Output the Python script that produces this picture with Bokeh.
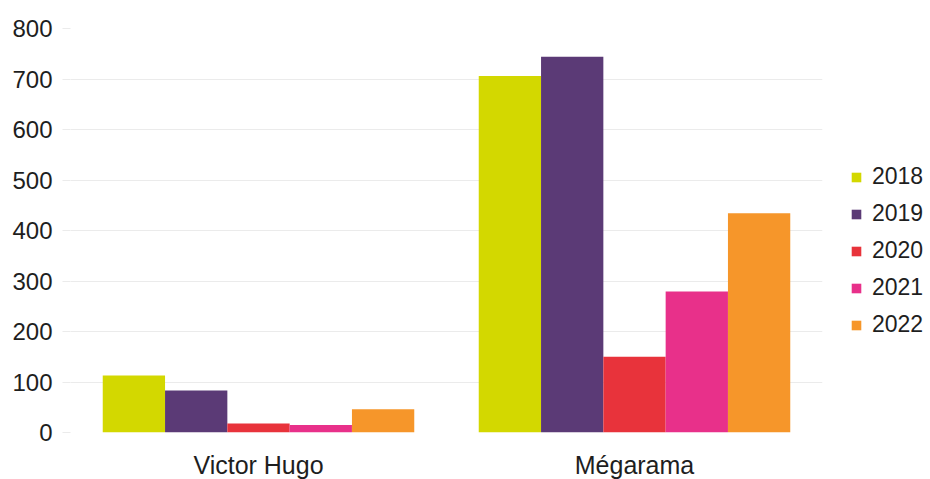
from bokeh.plotting import figure
from bokeh.models import FactorRange, Range1d, Legend, LegendItem
from bokeh.transform import dodge
from bokeh.embed import file_html
from bokeh.resources import INLINE

categories = ["Victor Hugo", "Mégarama"]
years = ["2018", "2019", "2020", "2021", "2022"]
v2018 = [113, 706]
v2019 = [83, 744]
v2020 = [18, 150]
v2021 = [15, 279]
v2022 = [46, 434]
colors = ["#d3d800", "#5b3a76", "#e8333b", "#e8308a", "#f6962a"]
y_ticks = [0, 100, 200, 300, 400, 500, 600, 700, 800]

series = [v2018, v2019, v2020, v2021, v2022]

p = figure(x_range=FactorRange(*categories, range_padding=0), y_range=Range1d(0, 800),
           frame_width=752, frame_height=404, output_backend="svg", toolbar_location=None,
           min_border_left=70, min_border_right=100, min_border_top=28, min_border_bottom=47)
p.outline_line_color = None

bar_w = 0.1657
offsets = [-2 * bar_w, -bar_w, 0, bar_w, 2 * bar_w]
items = []
for yr, vals, col, off in zip(years, series, colors, offsets):
    r = p.vbar(x=dodge("cat", off, range=p.x_range), top="val", width=bar_w,
               source=dict(cat=categories, val=vals), fill_color=col, line_color=None)
    items.append(LegendItem(label=yr, renderers=[r]))

p.yaxis.ticker = y_ticks
p.xgrid.grid_line_color = None
p.ygrid.grid_line_color = "#ebebeb"
p.ygrid.grid_line_width = 1

for ax in (p.xaxis, p.yaxis):
    ax.axis_line_color = None
    ax.minor_tick_line_color = None
    ax.major_label_text_font = "Liberation Sans"
    ax.major_label_text_color = "#1e1e1e"
    ax.major_label_text_font_size = "24px"

p.xaxis.major_label_text_font_size = "25px"
p.yaxis.major_tick_line_color = "#ebebeb"
p.yaxis.major_tick_out = 8
p.yaxis.major_tick_in = 0
p.yaxis.major_label_standoff = 10
p.xaxis.major_tick_line_color = None
p.xaxis.major_tick_out = 0
p.xaxis.major_tick_in = 0
p.xaxis.major_label_standoff = 18

legend = Legend(items=items, location=(28, 94), orientation="vertical",
                glyph_width=12, glyph_height=12, label_height=22, spacing=10,
                label_text_font="Liberation Sans", label_text_font_size="23px",
                label_text_color="#1e1e1e", padding=0, margin=0,
                border_line_color=None, background_fill_alpha=0, label_standoff=10)
p.add_layout(legend, "right")

open("out.html", "w").write(file_html(p, INLINE))
